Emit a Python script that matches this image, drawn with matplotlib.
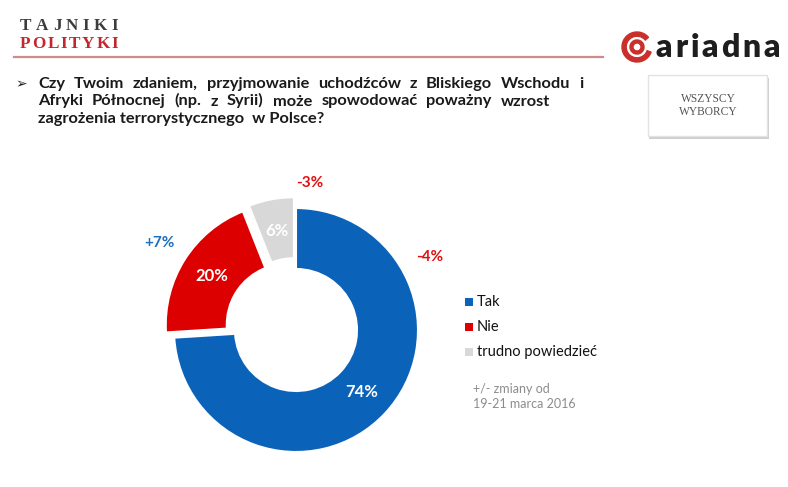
import matplotlib.pyplot as plt
from matplotlib.patches import Rectangle, Wedge

# ---- dane ----
categories = ["Tak", "Nie", "trudno powiedzieć"]
values = [74, 20, 6]
changes = ["-4%", "+7%", "-3%"]
colors = ["#0b63b9", "#dc0000", "#d8d8d8"]
change_colors = ["#e01010", "#1f6ebf", "#e01010"]
question = [
    "Czy Twoim zdaniem, przyjmowanie uchodźców z Bliskiego Wschodu i",
    "Afryki Północnej (np. z Syrii) może spowodować poważny wzrost",
    "zagrożenia terrorystycznego  w Polsce?",
]
note = ["+/- zmiany od", "19-21 marca 2016"]

W, H = 788, 487
fig = plt.figure(figsize=(W / 100, H / 100), dpi=100, facecolor="white")
bg = fig.add_axes([0, 0, 1, 1])
bg.set_xlim(0, W)
bg.set_ylim(H, 0)
bg.axis("off")
renderer = fig.canvas.get_renderer()

SANS = "Lato"


def spaced(x0, x1, y, s, **kw):
    # tekst rozciagniety miedzy x0 a x1 (rozstrzelone litery)
    arts = [bg.text(0, y, ch, va="baseline", **kw) for ch in s]
    widths = [a.get_window_extent(renderer).width for a in arts]
    gap = (x1 - x0 - sum(widths)) / (len(s) - 1)
    x = x0
    for a, w in zip(arts, widths):
        a.set_x(x)
        x += w + gap


# ---- naglowek ----
spaced(20, 118, 29.5, "TAJNIKI", family="Liberation Serif", weight="bold",
       fontsize=12.3, color="#3c3c3c")
spaced(20, 118, 48.5, "POLITYKI", family="Liberation Serif", weight="bold",
       fontsize=12.3, color="#c4262e")
bg.plot([14, 603], [57, 57], color="#cf8a8c", lw=1.6)

# logo ariadna
bg.add_patch(Wedge((637, 47), 15, 20, 320, width=4.2, color="#c9302c"))
bg.add_patch(Wedge((637, 47), 7, 0, 360, width=3, color="#c9302c"))
spaced(656, 780, 57, "ariadna", family=SANS, weight="heavy", fontsize=23,
       color="#1e1e1e")

# ramka WSZYSCY WYBORCY
bg.add_patch(Rectangle((649, 78), 120, 61, color="#cfcfcf", lw=0))
bg.add_patch(Rectangle((648, 75), 119, 61, facecolor="white",
                       edgecolor="#e2e2e2", lw=1))
bg.text(708, 99, "WSZYSCY", family="Liberation Serif", fontsize=8.3,
        color="#555555", ha="center", va="center")
bg.text(708, 112, "WYBORCY", family="Liberation Serif", fontsize=8.3,
        color="#555555", ha="center", va="center")

# ---- pytanie (wyjustowane) ----
bg.text(15, 88, "\u27a2", family="DejaVu Sans", fontsize=10, color="#222222",
        va="baseline")
baselines = [88, 105.5, 123]
rights = [583, 550, None]
qkw = dict(family=SANS, weight="bold", fontsize=11.8, color="#1a1a1a",
           va="baseline")
for line, yb, right in zip(question, baselines, rights):
    if right is None:
        bg.text(38, yb, line, **qkw)
        continue
    words = line.split()
    arts = [bg.text(0, yb, w, **qkw) for w in words]
    widths = [a.get_window_extent(renderer).width for a in arts]
    gap = (right - 38 - sum(widths)) / (len(words) - 1)
    x = 38
    for a, w in zip(arts, widths):
        a.set_x(x)
        x += w + gap

# ---- wykres pierscieniowy ----
cx, cy, r = 296, 330, 122
lim = 1.3
side = 2 * lim * r
ax = fig.add_axes([(cx - side / 2) / W, (H - cy - side / 2) / H, side / W, side / H])
wedges, _, autotexts = ax.pie(
    values, colors=colors, startangle=90, counterclock=False,
    explode=[0, 0.08, 0.09], autopct="%d%%", pctdistance=0.74,
    wedgeprops=dict(width=0.5, edgecolor="white", linewidth=1.5),
    textprops=dict(color="white", family=SANS, weight="bold", fontsize=12),
)
ax.set_xlim(-lim, lim)
ax.set_ylim(-lim, lim)

# zmiany
change_pos = [(430, 257), (159, 243), (310, 183)]
for txt, col, (x, y) in zip(changes, change_colors, change_pos):
    bg.text(x, y, txt, family=SANS, weight="bold", fontsize=11, color=col,
            ha="center", va="center")

# ---- legenda ----
leg_y = [302, 327, 352]
for cat, col, y in zip(categories, colors, leg_y):
    bg.add_patch(Rectangle((465, y - 4), 8, 8, color=col, lw=0))
    bg.text(477, y, cat, family=SANS, fontsize=10.5, color="#111111",
            va="center")
for i, t in enumerate(note):
    bg.text(473, 393 + i * 15, t, family=SANS, fontsize=9, color="#8c8c8c",
            va="baseline")

fig.savefig("out.png", dpi=100, facecolor="white")
